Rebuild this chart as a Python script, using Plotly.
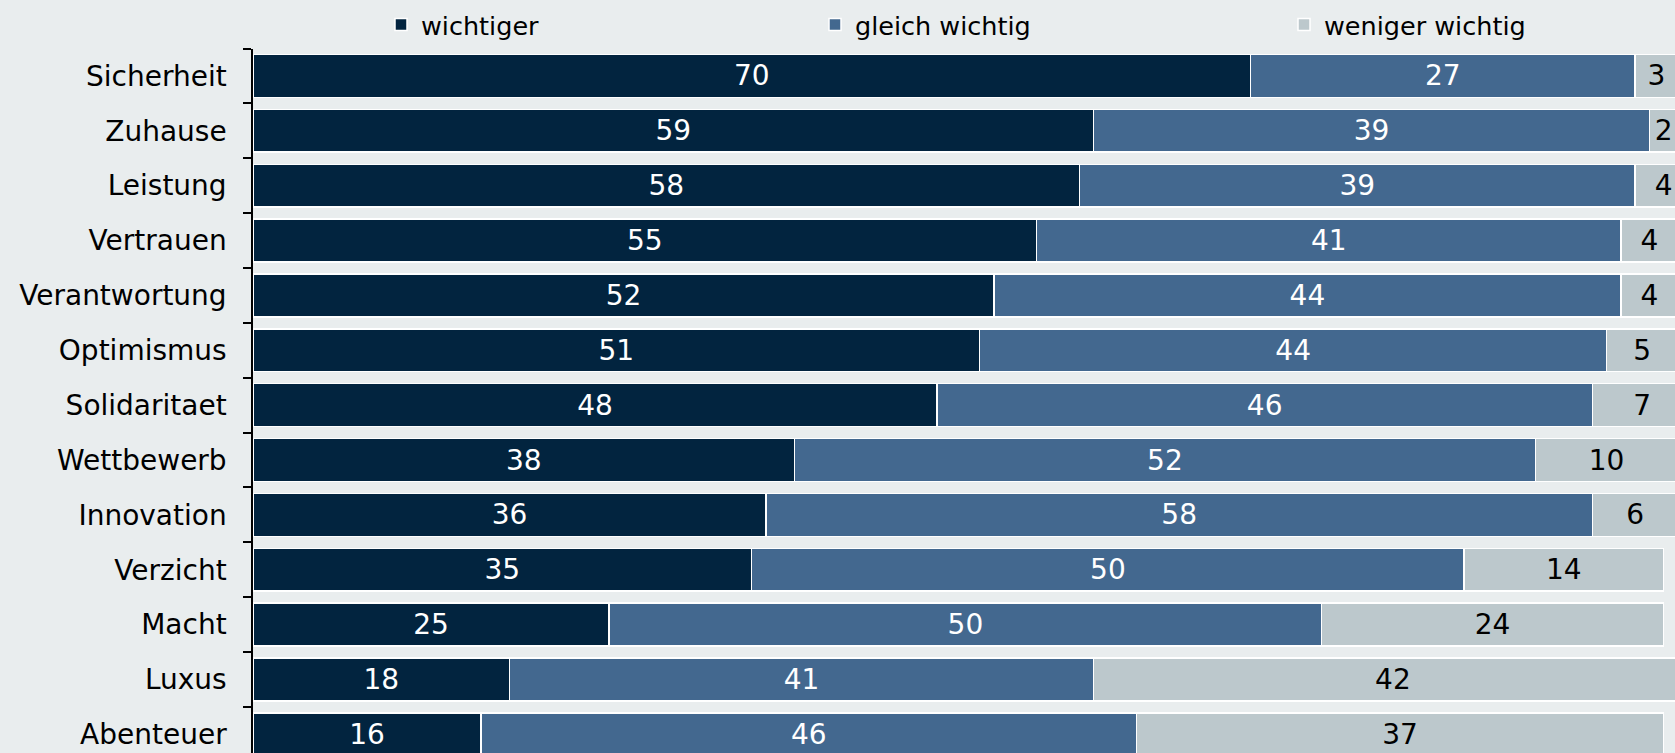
import plotly.graph_objects as go

categories = ["Sicherheit", "Zuhause", "Leistung", "Vertrauen", "Verantwortung",
              "Optimismus", "Solidaritaet", "Wettbewerb", "Innovation", "Verzicht",
              "Macht", "Luxus", "Abenteuer"]
wichtiger = [70, 59, 58, 55, 52, 51, 48, 38, 36, 35, 25, 18, 16]
gleich_wichtig = [27, 39, 39, 41, 44, 44, 46, 52, 58, 50, 50, 41, 46]
weniger_wichtig = [3, 2, 4, 4, 4, 5, 7, 10, 6, 14, 24, 42, 37]

series_names = ["wichtiger", "gleich wichtig", "weniger wichtig"]
colors = ["#02243F", "#43688F", "#BCC8CC"]
text_colors = ["white", "white", "black"]
FONT = "DejaVu Sans"

fig = go.Figure()
for i, (name, vals) in enumerate(zip(series_names, [wichtiger, gleich_wichtig, weniger_wichtig])):
    fig.add_trace(go.Bar(
        y=categories, x=vals, name=name, orientation="h",
        marker=dict(color=colors[i], line=dict(color="white", width=1.5)),
        text=vals, texttemplate="%{x}", textposition="inside",
        insidetextanchor="middle", textangle=0,
        textfont=dict(family=FONT, size=28, color=text_colors[i]),
        legend=["legend", "legend2", "legend3"][i],
        showlegend=True,
    ))

leg_common = dict(orientation="h", xref="container", yref="container",
                  yanchor="middle", xanchor="left", bgcolor="rgba(0,0,0,0)",
                  font=dict(family=FONT, size=25.5, color="black"))
fig.update_layout(
    width=1675, height=753,
    showlegend=True,
    barmode="stack", bargap=0.22,
    paper_bgcolor="#E9EDEE", plot_bgcolor="#E9EDEE",
    margin=dict(l=253, r=0, t=47, b=0),
    font=dict(family=FONT, size=28, color="black"),
    legend=dict(x=381 / 1675, y=1 - 25 / 753, **leg_common),
    legend2=dict(x=815 / 1675, y=1 - 25 / 753, **leg_common),
    legend3=dict(x=1284 / 1675, y=1 - 25 / 753, **leg_common),
    xaxis=dict(range=[0, 99.8], showgrid=False, zeroline=False, showticklabels=False,
               showline=False, ticks=""),
    yaxis=dict(range=[12.34, -0.5], type="category", showgrid=False, zeroline=False,
               showline=True, linecolor="black", linewidth=1.5,
               ticks="outside", tickson="boundaries", ticklen=8, tickwidth=1.5,
               tickcolor="black", ticklabelstandoff=19,
               tickfont=dict(family=FONT, size=28, color="black")),
)

fig.write_html("out.html", config={"displayModeBar": False},
               post_script="document.body.style.margin='0';document.body.style.overflow='hidden';")
